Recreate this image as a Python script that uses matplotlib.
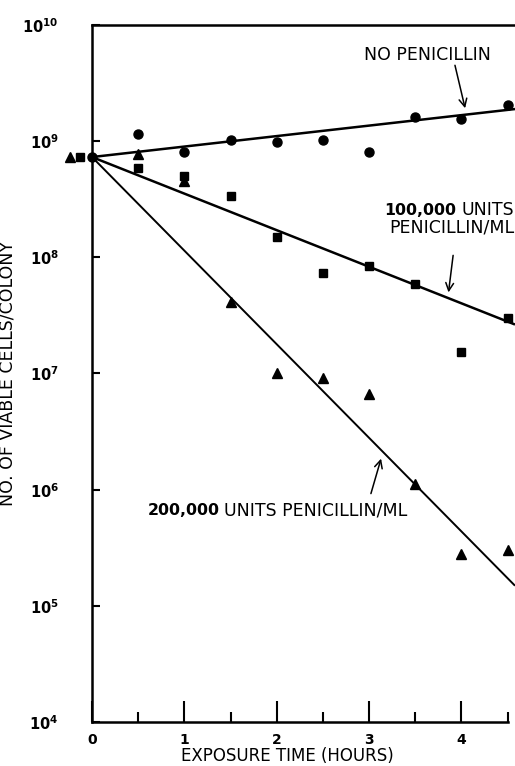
import math
import matplotlib
matplotlib.use("Agg")
import matplotlib.pyplot as plt
from matplotlib.ticker import FixedLocator, FuncFormatter
from matplotlib.transforms import ScaledTranslation

plt.rcParams['font.family'] = ['DejaVu Sans']

# ---- data ----
hours = [0, 0.5, 1, 1.5, 2, 2.5, 3, 3.5, 4, 4.5]
no_penicillin = [7.3e8, 1.15e9, 8.0e8, 1.02e9, 9.8e8, 1.02e9, 8.0e8, 1.61e9, 1.55e9, 2.04e9]
pen_100k = [7.3e8, 5.85e8, 5.0e8, 3.36e8, 1.49e8, 7.4e7, 8.35e7, 5.85e7, 1.52e7, 2.98e7]
pen_200k = [7.3e8, 7.7e8, 4.5e8, 4.1e7, 1.02e7, 9.06e6, 6.7e6, 1.13e6, 2.8e5, 3.04e5]

fit_hours = [0, 4.58]
fit_none = [7.3e8, 1.89e9]
fit_100k = [7.3e8, 2.64e7]
fit_200k = [7.3e8, 1.49e5]

x_major = [0, 1, 2, 3, 4]
x_minor = [0.5, 1.5, 2.5, 3.5, 4.5]
y_ticks = [1e4, 1e5, 1e6, 1e7, 1e8, 1e9, 1e10]

fig = plt.figure(figsize=(5.15, 7.66), dpi=100)
ax = fig.add_axes([92/515, 44/766, 423/515, 697/766])
ax.set_yscale('log')
ax.set_xlim(0, 4.58)
ax.set_ylim(1e4, 1e10)

# fitted lines
ax.plot(fit_hours, fit_none, color='black', lw=1.8, solid_capstyle='butt', clip_on=False)
ax.plot(fit_hours, fit_100k, color='black', lw=1.8, solid_capstyle='butt', clip_on=False)
ax.plot(fit_hours, fit_200k, color='black', lw=1.4, solid_capstyle='butt', clip_on=False)

# markers; the t=0 square and triangle are drawn offset left of the axis as in the original
off_sq = ax.transData + ScaledTranslation(-12/100, 0, fig.dpi_scale_trans)
off_tr = ax.transData + ScaledTranslation(-22/100, 0, fig.dpi_scale_trans)

ax.plot(hours, no_penicillin, 'o', color='black', ms=6.5, clip_on=False, zorder=5)
ax.plot(hours[1:], pen_100k[1:], 's', color='black', ms=5.2, clip_on=False, zorder=5)
ax.plot(hours[1:], pen_200k[1:], '^', color='black', ms=6.5, clip_on=False, zorder=5)
ax.plot(hours[:1], pen_100k[:1], 's', color='black', ms=5.2, clip_on=False, zorder=5, transform=off_sq)
ax.plot(hours[:1], pen_200k[:1], '^', color='black', ms=6.5, clip_on=False, zorder=5, transform=off_tr)

# spines
for s in ['left', 'bottom', 'top']:
    ax.spines[s].set_linewidth(1.8)
ax.spines['right'].set_visible(False)
ax.spines['bottom'].set_bounds(0, 4.5)

# ticks
ax.xaxis.set_major_locator(FixedLocator(x_major))
ax.xaxis.set_minor_locator(FixedLocator(x_minor))
ax.tick_params(axis='x', which='major', direction='in', length=15, width=1.5,
               labelsize=10, pad=8, top=False)
ax.tick_params(axis='x', which='minor', direction='in', length=7.5, width=1.5, top=False)
ax.set_xticklabels([str(v) for v in x_major], fontweight='bold', fontsize=10)

ax.yaxis.set_major_locator(FixedLocator(y_ticks))
ax.yaxis.set_minor_locator(FixedLocator([]))
ax.yaxis.set_major_formatter(FuncFormatter(lambda v, p: r'$\mathbf{10^{%d}}$' % round(math.log10(v))))
ax.tick_params(axis='y', which='major', direction='in', length=5.5, width=1.5,
               labelsize=10.5, pad=24, right=False)

ax.set_xlabel('EXPOSURE TIME (HOURS)', fontsize=12)
ax.xaxis.set_label_coords(0.463, -0.036)
ax.set_ylabel('NO. OF VIABLE CELLS/COLONY', fontsize=12.5)
ax.yaxis.set_label_coords(-0.178, 0.5)

# annotations
arrow = dict(arrowstyle='->', lw=1.1, color='black', shrinkA=0, shrinkB=0,
             mutation_scale=14)
ax.text(2.94, 5.5e9, 'NO PENICILLIN', fontsize=12.5, ha='left', va='center')
ax.annotate('', xy=(4.04, 1.92e9), xytext=(3.93, 4.5e9), arrowprops=arrow)

ax.text(4.57, 1.82e8, 'PENICILLIN/ML', fontsize=12.5, ha='right', va='center')
t_units = ax.text(4.57, 2.54e8, 'UNITS', fontsize=12.5, ha='right', va='center')
ax.annotate('', xy=(3.86, 4.99e7), xytext=(3.91, 1.04e8), arrowprops=arrow)

t_200 = ax.text(0.60, 6.6e5, '200,000', fontsize=11.3, fontweight='bold', ha='left', va='center')
ax.annotate('', xy=(3.13, 1.85e6), xytext=(3.02, 9.25e5), arrowprops=arrow)

fig.canvas.draw()
r = fig.canvas.get_renderer()
inv = ax.transData.inverted()
# bold "100,000" immediately left of "UNITS"
bb = t_units.get_window_extent(r)
x_left = inv.transform((bb.x0 - 5, bb.y0))[0]
ax.text(x_left, 2.54e8, '100,000', fontsize=11.3, fontweight='bold', ha='right', va='center')
# "UNITS PENICILLIN/ML" right of bold "200,000"
bb2 = t_200.get_window_extent(r)
x_right = inv.transform((bb2.x1 + 5, bb2.y0))[0]
ax.text(x_right, 6.6e5, 'UNITS PENICILLIN/ML', fontsize=12.5, ha='left', va='center')

fig.savefig('out.png', dpi=100)
